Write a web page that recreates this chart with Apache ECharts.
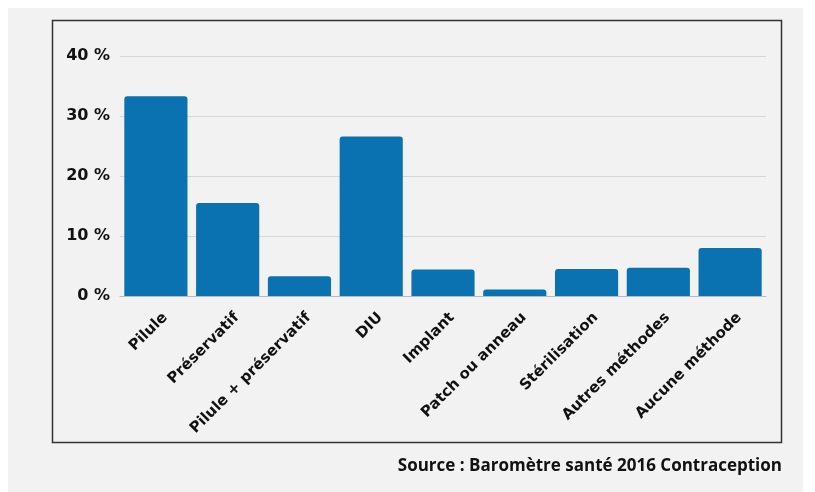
<!DOCTYPE html>
<html>
<head>
<meta charset="utf-8">
<script src="https://cdn.jsdelivr.net/npm/echarts@6/dist/echarts.min.js"></script>
<style>
  html, body { margin: 0; padding: 0; background: #ffffff; }
  #chart { width: 815px; height: 492px; }
</style>
</head>
<body>
<div id="chart"></div>
<script>
const categories = ['Pilule', 'Préservatif', 'Pilule + préservatif', 'DIU', 'Implant',
  'Patch ou anneau', 'Stérilisation', 'Autres méthodes', 'Aucune méthode']
const values = [33.3, 15.5, 3.3, 26.6, 4.4, 1.1, 4.5, 4.7, 8.0]
const yTicks = [0, 10, 20, 30, 40]

const chart = echarts.init(document.getElementById('chart'))
chart.setOption({
  backgroundColor: '#ffffff',
  textStyle: { fontFamily: 'DejaVu Sans' },
  graphic: [
    // grey page area
    { type: 'rect', z: -10, shape: { x: 8, y: 8, width: 795, height: 484 }, style: { fill: '#f2f2f2' } },
    // framed chart box
    { type: 'rect', z: -5, shape: { x: 52.5, y: 20.5, width: 729, height: 422 },
      style: { fill: '#f2f2f2', stroke: '#333333', lineWidth: 1.5 } },
    { type: 'text', right: 33, top: 458,
      style: { text: 'Source : Baromètre santé 2016 Contraception', fill: '#111111',
        font: 'bold 17px "Open Sans"', textAlign: 'right' } }
  ],
  grid: { left: 120, right: 49, top: 56, height: 240 },
  xAxis: {
    type: 'category',
    data: categories,
    axisTick: { show: false },
    axisLine: { lineStyle: { color: '#bbbbbb', width: 1 } },
    axisLabel: {
      rotate: 45, interval: 0, margin: 10,
      verticalAlign: 'top', lineHeight: 26,
      color: '#111111', fontWeight: 'bold', fontSize: 15, fontFamily: 'DejaVu Sans'
    }
  },
  yAxis: {
    type: 'value',
    min: 0, max: 40, interval: 10,
    axisLine: { show: false },
    axisTick: { show: false },
    splitLine: { lineStyle: { color: '#d6d6d6', width: 1 } },
    axisLabel: {
      margin: 10, color: '#111111', fontWeight: 'bold', fontSize: 16, fontFamily: 'DejaVu Sans',
      formatter: function (v) { return yTicks.indexOf(v) >= 0 ? v + ' %' : '' }
    }
  },
  series: [{
    type: 'bar',
    data: values,
    barCategoryGap: '12%',
    itemStyle: { color: '#0a72b0', borderRadius: [3, 3, 0, 0] }
  }]
})
</script>
</body>
</html>
